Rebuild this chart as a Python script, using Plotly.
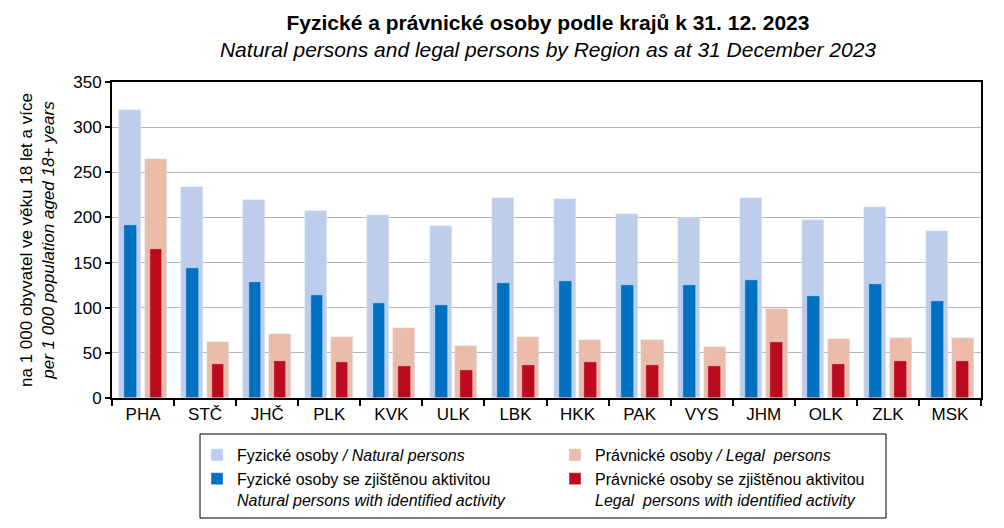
import plotly.graph_objects as go

# regions and values per 1 000 population aged 18+
regions = ["PHA", "STČ", "JHČ", "PLK", "KVK", "ULK", "LBK",
           "HKK", "PAK", "VYS", "JHM", "OLK", "ZLK", "MSK"]
natural = [319, 234, 219, 207, 203, 190, 221, 220, 204, 199, 221, 197, 212, 185]
natural_active = [192, 144, 129, 114, 105, 103, 127, 130, 125, 125, 131, 113, 126, 107]
legal = [265, 62, 71, 68, 77, 58, 68, 64, 64, 57, 99, 65, 66, 66]
legal_active = [165, 38, 41, 40, 36, 31, 37, 40, 37, 35, 62, 38, 41, 41]

FONT = "Liberation Sans, Arial, sans-serif"

# page body adds an 8px margin, so the figure is a bit smaller than the window
W, H = 996, 520
L, R, T, B = 104, 23, 74, 130
PW, PH = W - L - R, H - T - B


def px_x(x):
    # figure pixel -> paper x
    return (x - L) / PW


def px_y(y):
    # figure pixel -> paper y
    return (H - B - y) / PH


fig = go.Figure()

# wide pale bars and narrow dark bars overlaid
fig.add_trace(go.Bar(
    x=regions, y=natural, name="Fyzické osoby <i>/ Natural persons</i>",
    marker_color="#BDCDEB", width=0.355, offset=-0.385,
))
fig.add_trace(go.Bar(
    x=regions, y=legal, name="Právnické osoby <i>/ Legal  persons</i>",
    marker_color="#EBBCAA", width=0.355, offset=0.03,
))
fig.add_trace(go.Bar(
    x=regions, y=natural_active,
    name="Fyzické osoby se zjištěnou aktivitou<br><i>Natural persons with identified activity</i>",
    marker_color="#0070C0", width=0.205, offset=-0.30,
))
fig.add_trace(go.Bar(
    x=regions, y=legal_active,
    name="Právnické osoby se zjištěnou aktivitou<br><i>Legal  persons with identified activity</i>",
    marker_color="#BE0A1E", width=0.205, offset=0.105,
))

fig.update_layout(
    width=W, height=H,
    barmode="overlay",
    plot_bgcolor="white", paper_bgcolor="white",
    font=dict(family=FONT, size=16, color="black"),
    margin=dict(l=L, r=R, t=T, b=B, autoexpand=False),
    title=dict(
        text="<b>Fyzické a právnické osoby podle krajů k 31. 12. 2023</b><br>"
             "<i>Natural persons and legal persons by Region as at 31 December 2023</i>",
        x=540 / W, xanchor="center", xref="container",
        y=1 - 22 / H, yanchor="top", yref="container",
        font=dict(family=FONT, size=21),
    ),
    showlegend=True,
    legend=dict(
        orientation="h", x=px_x(189), xanchor="left", y=px_y(430), yanchor="top",
        borderwidth=0, bgcolor="rgba(0,0,0,0)",
        entrywidth=313, entrywidthmode="pixels",
        valign="top", traceorder="normal",
        font=dict(family=FONT, size=16),
    ),
    bargap=0,
    # legend frame
    shapes=[dict(
        type="rect", xref="paper", yref="paper",
        x0=px_x(192), x1=px_x(878), y0=px_y(510), y1=px_y(426),
        line=dict(color="black", width=1),
    )],
    annotations=[dict(
        text="na 1 000 obyvatel ve věku 18 let a více<br><i>per 1 000 population aged 18+ years</i>",
        textangle=-90, xref="paper", yref="paper", x=0, y=0.5,
        xanchor="center", yanchor="middle", xshift=-(L - 29), showarrow=False,
        font=dict(family=FONT, size=17),
    )],
)

fig.update_xaxes(
    showline=True, linecolor="black", linewidth=2, mirror=True,
    ticks="outside", tickson="boundaries", ticklen=6, tickwidth=2, tickcolor="black",
    tickfont=dict(size=17), automargin=False,
)
fig.update_yaxes(
    range=[0, 350], dtick=50,
    showline=True, linecolor="black", linewidth=2, mirror=True,
    ticks="outside", ticklen=5, tickwidth=2, tickcolor="black",
    showgrid=True, gridcolor="#B4B4B4", gridwidth=1,
    tickfont=dict(size=17), automargin=False,
)

fig.write_html("out.html")
